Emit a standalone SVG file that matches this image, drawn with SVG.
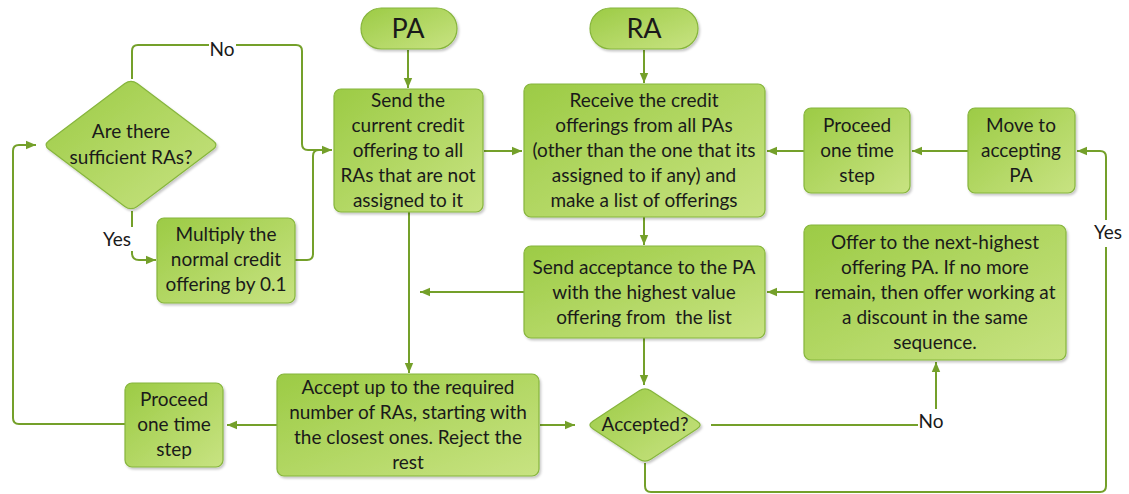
<svg xmlns="http://www.w3.org/2000/svg" width="1129" height="494" viewBox="0 0 1129 494">
<defs>
<linearGradient id="g" x1="0" y1="0" x2="1" y2="1">
<stop offset="0" stop-color="#9ccb45"/>
<stop offset="1" stop-color="#c8e382"/>
</linearGradient>
<filter id="sh" x="-10%" y="-10%" width="125%" height="130%">
<feDropShadow dx="1.5" dy="2" stdDeviation="1.2" flood-color="#000" flood-opacity="0.22"/>
</filter>
<marker id="ah" markerUnits="userSpaceOnUse" markerWidth="10" markerHeight="10" viewBox="0 0 10 10" refX="10" refY="5" orient="auto">
<path d="M0,0.8 L10,5 L0,9.2 Z" fill="#74a02a"/>
</marker>
</defs>
<style>
.n{fill:url(#g);stroke:#86b53c;stroke-width:1.2;filter:url(#sh)}
.t{font-family:Lato,"Liberation Sans",sans-serif;font-size:19px;fill:#1a1a1a;text-anchor:middle}
.big{font-size:27px}
.c{fill:none;stroke:#74a02a;stroke-width:2}
.a{marker-end:url(#ah)}
.lb{font-family:Lato,"Liberation Sans",sans-serif;font-size:19px;fill:#1a1a1a;text-anchor:middle}
</style>
<rect width="1129" height="494" fill="#fff"/>

<g id="connectors">
<path class="c a" d="M408,50 L408,88"/>
<path class="c a" d="M644,50 L644,83"/>
<path class="c a" d="M484,151 L522,151"/>
<path class="c a" d="M644,217 L644,245"/>
<path class="c a" d="M968,151 L912,151"/>
<path class="c a" d="M804,151 L767,151"/>
<path class="c a" d="M804,292 L767,292"/>
<path class="c a" d="M524,292 L420,292"/>
<path class="c a" d="M409,212 L409,373"/>
<path class="c a" d="M644,338 L644,385"/>
<path class="c a" d="M540,425 L575,425"/>
<path class="c a" d="M277,425 L227,425"/>
<path class="c a" d="M125,424 L19,424 Q13,424 13,418 L13,151 Q13,145 19,145 L36,145"/>
<path class="c" d="M711,425 L918,425"/>
<path class="c a" d="M936,409 L936,362"/>
<path class="c" d="M645,463 L645,486 Q645,492 651,492 L1100,492 Q1106,492 1106,486 L1106,247"/>
<path class="c a" d="M1106,220 L1106,157 Q1106,151 1100,151 L1077,151"/>
<path class="c" d="M132,79 L132,51 Q132,45 138,45 L209,45"/>
<path class="c a" d="M236,45 L296,45 Q302,45 302,51 L302,144 Q302,150 308,150 L332,150"/>
<path class="c" d="M295,260 L307,260 Q313,260 313,254 L313,156 Q313,150 319,150"/>
<path class="c" d="M132,211 L132,227"/>
<path class="c a" d="M132,251 L132,253 Q132,260 139,260 L156,260"/>
<text class="lb" x="222" y="56">No</text>
<text class="lb" x="117" y="246">Yes</text>
<text class="lb" x="931" y="428">No</text>
<text class="lb" x="1108" y="239">Yes</text>
</g>

<g id="pa">
<rect class="n" x="361" y="8" width="96" height="41" rx="20.5"/>
<text class="t big" x="408" y="38">PA</text>
</g>
<g id="ra">
<rect class="n" x="590" y="8" width="108" height="41" rx="20.5"/>
<text class="t big" x="644" y="38">RA</text>
</g>
<g id="send-offer">
<rect class="n" x="334" y="89" width="149" height="123" rx="7"/>
<text class="t" x="408" y="107">Send the</text>
<text class="t" x="408" y="132">current credit</text>
<text class="t" x="408" y="157">offering to all</text>
<text class="t" x="408" y="182">RAs that are not</text>
<text class="t" x="408" y="207">assigned to it</text>
</g>
<g id="receive">
<rect class="n" x="524" y="84" width="241" height="133" rx="7"/>
<text class="t" x="644" y="107">Receive the credit</text>
<text class="t" x="644" y="132">offerings from all PAs</text>
<text class="t" x="644" y="157">(other than the one that its</text>
<text class="t" x="644" y="182">assigned to if any) and</text>
<text class="t" x="644" y="207">make a list of offerings</text>
</g>
<g id="proceed-top">
<rect class="n" x="804" y="108" width="106" height="85" rx="7"/>
<text class="t" x="857" y="132">Proceed</text>
<text class="t" x="857" y="157">one time</text>
<text class="t" x="857" y="182">step</text>
</g>
<g id="move">
<rect class="n" x="968" y="108" width="107" height="85" rx="7"/>
<text class="t" x="1021" y="132">Move to</text>
<text class="t" x="1021" y="157">accepting</text>
<text class="t" x="1021" y="182">PA</text>
</g>
<g id="offer-next">
<rect class="n" x="804" y="225" width="262" height="135" rx="7"/>
<text class="t" x="935" y="249">Offer to the next-highest</text>
<text class="t" x="935" y="274">offering PA. If no more</text>
<text class="t" x="935" y="299">remain, then offer working at</text>
<text class="t" x="935" y="324">a discount in the same</text>
<text class="t" x="935" y="349">sequence.</text>
</g>
<g id="send-accept">
<rect class="n" x="524" y="246" width="241" height="92" rx="7"/>
<text class="t" x="644" y="274">Send acceptance to the PA</text>
<text class="t" x="644" y="299">with the highest value</text>
<text class="t" x="644" y="324" xml:space="preserve">offering from  the list</text>
</g>
<g id="accepted">
<path class="n" d="M650.8,390.8 L697.2,421.2 Q703,425 697.2,428.8 L650.8,459.2 Q645,463 639.2,459.2 L592.8,428.8 Q587,425 592.8,421.2 L639.2,390.8 Q645,387 650.8,390.8 Z"/>
<text class="t" x="645" y="431">Accepted?</text>
</g>
<g id="accept-up">
<rect class="n" x="277" y="374" width="262" height="102" rx="7"/>
<text class="t" x="408" y="394">Accept up to the required</text>
<text class="t" x="408" y="419">number of RAs, starting with</text>
<text class="t" x="408" y="444">the closest ones. Reject the</text>
<text class="t" x="408" y="469">rest</text>
</g>
<g id="proceed-bottom">
<rect class="n" x="125" y="383" width="98" height="84" rx="7"/>
<text class="t" x="174" y="406">Proceed</text>
<text class="t" x="174" y="431">one time</text>
<text class="t" x="174" y="456">step</text>
</g>
<g id="sufficient">
<path class="n" d="M137.2,83.6 L212.8,140.4 Q219,145 212.8,149.6 L137.2,206.4 Q131,211 124.8,206.4 L49.2,149.6 Q43,145 49.2,140.4 L124.8,83.6 Q131,79 137.2,83.6 Z"/>
<text class="t" x="131" y="138">Are there</text>
<text class="t" x="131" y="164">sufficient RAs?</text>
</g>
<g id="multiply">
<rect class="n" x="157" y="218" width="138" height="85" rx="7"/>
<text class="t" x="226" y="241">Multiply the</text>
<text class="t" x="226" y="266">normal credit</text>
<text class="t" x="226" y="291">offering by 0.1</text>
</g>
</svg>
